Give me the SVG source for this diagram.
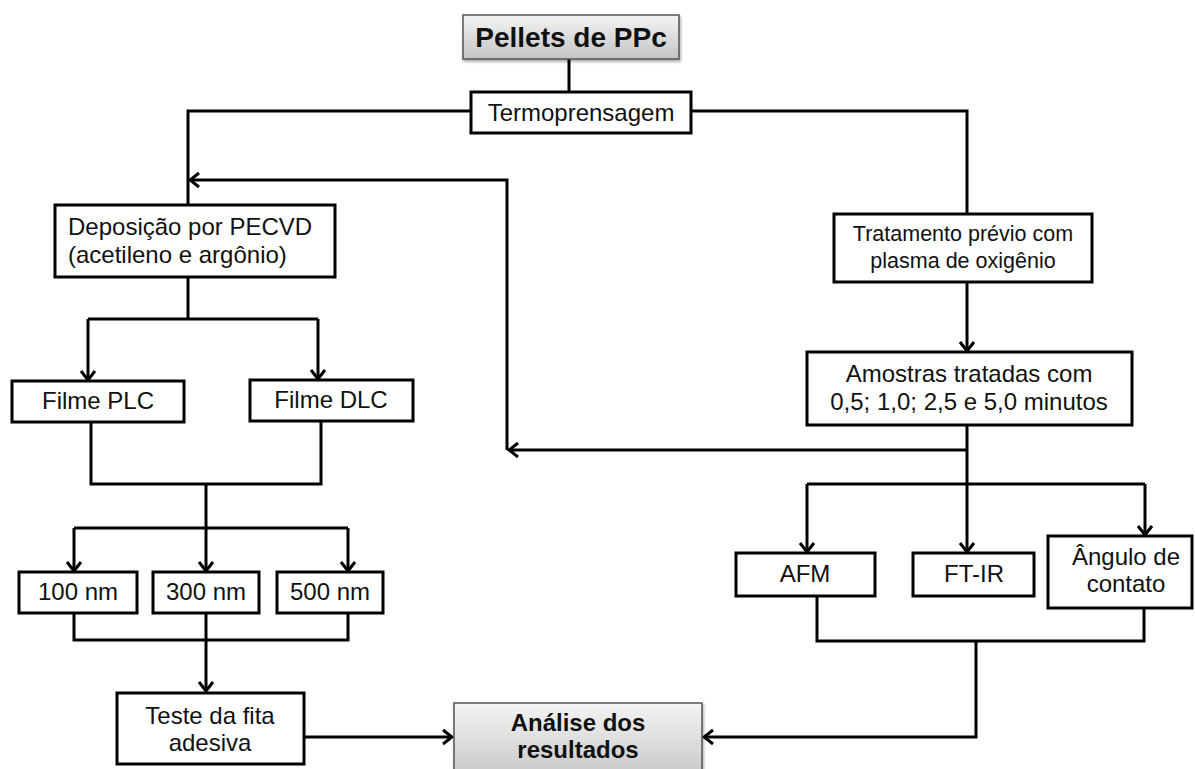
<svg xmlns="http://www.w3.org/2000/svg" width="1195" height="769" viewBox="0 0 1195 769">
<defs>
<linearGradient id="gray" x1="0" y1="0" x2="0" y2="1">
<stop offset="0" stop-color="#f4f4f4"/>
<stop offset="1" stop-color="#c4c4c4"/>
</linearGradient>
<filter id="sh" x="-10%" y="-10%" width="120%" height="130%">
<feDropShadow dx="1" dy="2" stdDeviation="1.5" flood-color="#000" flood-opacity="0.35"/>
</filter>
<marker id="arr" viewBox="-12 -9 14 18" markerWidth="14" markerHeight="18" refX="0" refY="0" orient="auto" markerUnits="userSpaceOnUse">
<path d="M-9,-7 L0,0 L-9,7" fill="none" stroke="#000" stroke-width="3" stroke-linejoin="miter"/>
</marker>
<style>
.box{fill:#fff;stroke:#000;stroke-width:3}
.gbox{fill:url(#gray);stroke:#555;stroke-width:1.5}
.t{font-family:"Liberation Sans",Arial,sans-serif;font-size:24px;fill:#111;text-anchor:middle}
.ts{font-size:21.5px}
.b{font-weight:bold}
.c{fill:none;stroke:#000;stroke-width:3;stroke-linejoin:miter}
.a{marker-end:url(#arr)}
</style>
</defs>
<g id="connectors">
<path class="c" d="M569,59 V92"/>
<path class="c" d="M471,111 H188 V205"/>
<path class="c" d="M691,111 H967 V214"/>
<path class="c a" d="M507,450 V180 H190"/>
<path class="c" d="M188,277 V319"/>
<path class="c" d="M88,319 H318"/>
<path class="c a" d="M88,319 V380"/>
<path class="c a" d="M318,319 V379"/>
<path class="c" d="M91,422 V484 H321 V421"/>
<path class="c a" d="M206,484 V571"/>
<path class="c" d="M74,528 H348"/>
<path class="c a" d="M74,528 V571"/>
<path class="c a" d="M348,528 V571"/>
<path class="c" d="M74,613 V640 H348 V613"/>
<path class="c a" d="M206,613 V691"/>
<path class="c a" d="M304,737 H452"/>
<path class="c a" d="M967,282 V351"/>
<path class="c" d="M967,425 V484"/>
<path class="c a" d="M967,450 H509"/>
<path class="c" d="M807,484 H1145"/>
<path class="c a" d="M807,484 V552"/>
<path class="c a" d="M967,484 V552"/>
<path class="c a" d="M1145,484 V535"/>
<path class="c" d="M817,596 V641 H1144 V608"/>
<path class="c a" d="M976,641 V737 H704"/>
</g>
<g id="pellets">
<rect class="gbox" x="463" y="15" width="216" height="44" filter="url(#sh)"/>
<text class="t b" x="571" y="47" style="font-size:28px">Pellets de PPc</text>
</g>
<g id="termoprensagem">
<rect class="box" x="471" y="92" width="220" height="41"/>
<text class="t" x="581" y="121">Termoprensagem</text>
</g>
<g id="deposicao">
<rect class="box" x="55" y="205" width="280" height="72"/>
<text class="t" x="68" y="235" style="text-anchor:start">Deposição por PECVD</text>
<text class="t" x="68" y="263" style="text-anchor:start">(acetileno e argônio)</text>
</g>
<g id="filme-plc">
<rect class="box" x="12" y="381" width="172" height="41"/>
<text class="t" x="98" y="409">Filme PLC</text>
</g>
<g id="filme-dlc">
<rect class="box" x="250" y="380" width="163" height="41"/>
<text class="t" x="331" y="408">Filme DLC</text>
</g>
<g id="nm100">
<rect class="box" x="19" y="572" width="118" height="41"/>
<text class="t" x="78" y="600">100 nm</text>
</g>
<g id="nm300">
<rect class="box" x="153" y="572" width="106" height="41"/>
<text class="t" x="206" y="600">300 nm</text>
</g>
<g id="nm500">
<rect class="box" x="277" y="572" width="106" height="41"/>
<text class="t" x="330" y="600">500 nm</text>
</g>
<g id="teste">
<rect class="box" x="117" y="693" width="187" height="71"/>
<text class="t" x="210" y="724">Teste da fita</text>
<text class="t" x="210" y="751">adesiva</text>
</g>
<g id="analise">
<rect class="gbox" x="454" y="703" width="248" height="80" filter="url(#sh)"/>
<text class="t b" x="578" y="731">Análise dos</text>
<text class="t b" x="578" y="758">resultados</text>
</g>
<g id="tratamento">
<rect class="box" x="834" y="214" width="258" height="68"/>
<text class="t ts" x="963" y="241">Tratamento prévio com</text>
<text class="t ts" x="963" y="268">plasma de oxigênio</text>
</g>
<g id="amostras">
<rect class="box" x="807" y="352" width="325" height="73"/>
<text class="t" x="969" y="382">Amostras tratadas com</text>
<text class="t" x="969" y="410">0,5; 1,0; 2,5 e 5,0 minutos</text>
</g>
<g id="afm">
<rect class="box" x="736" y="553" width="139" height="43"/>
<text class="t" x="805" y="582">AFM</text>
</g>
<g id="ftir">
<rect class="box" x="913" y="553" width="121" height="43"/>
<text class="t" x="974" y="582">FT-IR</text>
</g>
<g id="angulo">
<rect class="box" x="1048" y="536" width="144" height="72"/>
<text class="t" x="1126" y="565">Ângulo de</text>
<text class="t" x="1126" y="592">contato</text>
</g>
</svg>
